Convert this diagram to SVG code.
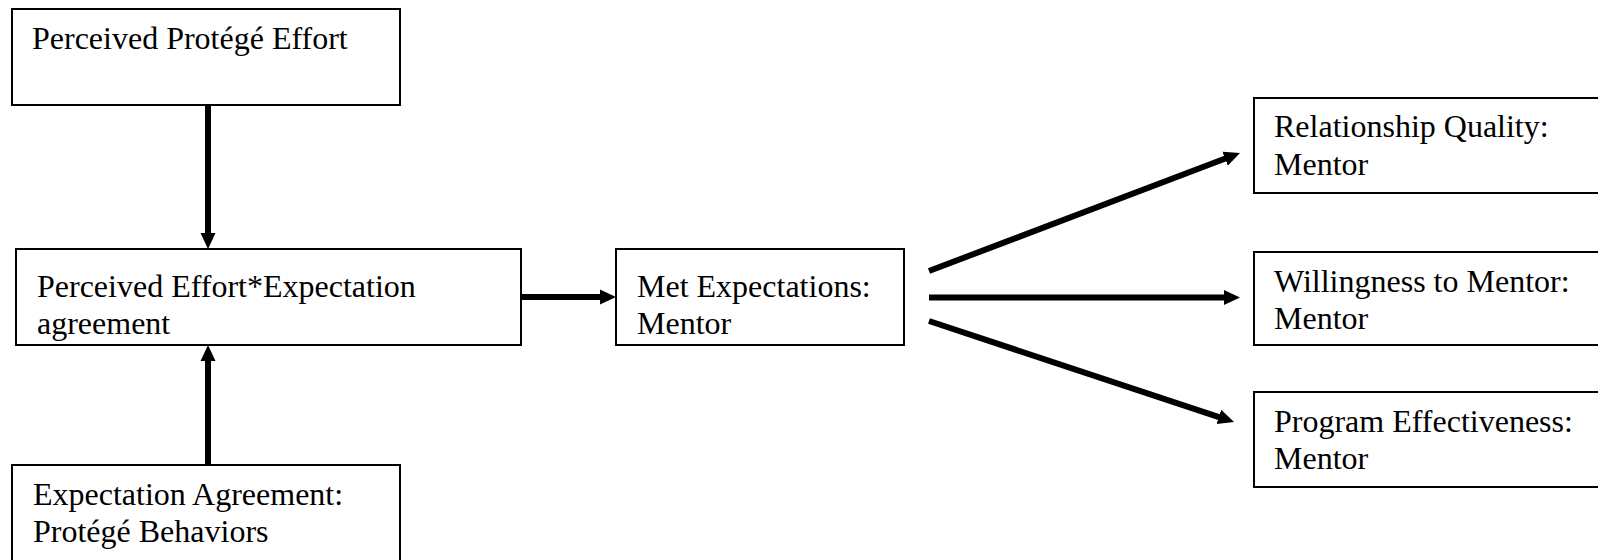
<svg xmlns="http://www.w3.org/2000/svg" width="1598" height="560" viewBox="0 0 1598 560">
<style>
.box{fill:#fff;stroke:#000;stroke-width:2}
.lbl{font-family:"Liberation Serif","Times New Roman",serif;font-size:32px;fill:#000}
.conn{stroke:#000;stroke-width:6;fill:none}
</style>
<defs>
<marker id="ah" markerUnits="userSpaceOnUse" markerWidth="17" markerHeight="16" viewBox="0 -8 17 16" refX="1" refY="0" orient="auto">
<path d="M0,-7.5 L16,0 L0,7.5 z" fill="#000"/>
</marker>
</defs>
<rect width="1598" height="560" fill="#fff"/>
<g id="n1">
<rect class="box" x="12" y="9" width="388" height="96"/>
<text class="lbl" x="32" y="49">Perceived Protégé Effort</text>
</g>
<g id="n2">
<rect class="box" x="16" y="249" width="505" height="96"/>
<text class="lbl" x="37" y="297">Perceived Effort*Expectation</text>
<text class="lbl" x="37" y="334">agreement</text>
</g>
<g id="n3">
<rect class="box" x="12" y="465" width="388" height="110"/>
<text class="lbl" x="33" y="505">Expectation Agreement:</text>
<text class="lbl" x="33" y="542">Protégé Behaviors</text>
</g>
<g id="n4">
<rect class="box" x="616" y="249" width="288" height="96"/>
<text class="lbl" x="637" y="297">Met Expectations:</text>
<text class="lbl" x="637" y="334">Mentor</text>
</g>
<g id="n5">
<rect class="box" x="1254" y="98" width="360" height="95"/>
<text class="lbl" x="1274" y="137">Relationship Quality:</text>
<text class="lbl" x="1274" y="175">Mentor</text>
</g>
<g id="n6">
<rect class="box" x="1254" y="252" width="360" height="93"/>
<text class="lbl" x="1274" y="292">Willingness to Mentor:</text>
<text class="lbl" x="1274" y="329">Mentor</text>
</g>
<g id="n7">
<rect class="box" x="1254" y="392" width="360" height="95"/>
<text class="lbl" x="1274" y="432">Program Effectiveness:</text>
<text class="lbl" x="1274" y="469">Mentor</text>
</g>
<g id="connectors">
<line class="conn" x1="208" y1="105" x2="208" y2="234" marker-end="url(#ah)"/>
<line class="conn" x1="208" y1="465" x2="208" y2="360" marker-end="url(#ah)"/>
<line class="conn" x1="521" y1="297" x2="601" y2="297" marker-end="url(#ah)"/>
<line class="conn" x1="929" y1="271" x2="1226" y2="158.3" marker-end="url(#ah)"/>
<line class="conn" x1="929" y1="297.5" x2="1225" y2="297.5" marker-end="url(#ah)"/>
<line class="conn" x1="929" y1="321" x2="1219.8" y2="417.3" marker-end="url(#ah)"/>
</g>
</svg>
